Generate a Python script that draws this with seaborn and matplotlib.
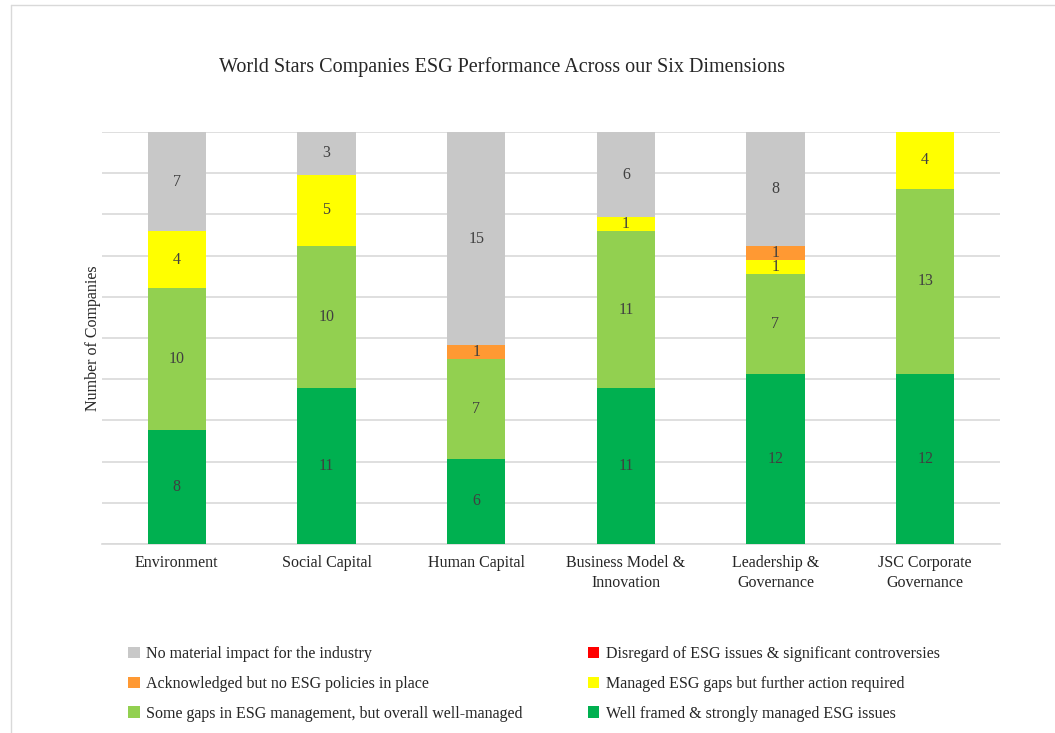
import numpy as np
import pandas as pd
import matplotlib
matplotlib.use("Agg")
import matplotlib.pyplot as plt
from matplotlib.patches import Patch
from matplotlib.lines import Line2D
import seaborn as sns

# Datos (de abajo hacia arriba en cada barra)
categories = ["Environment", "Social Capital", "Human Capital",
              "Business Model &\nInnovation", "Leadership &\nGovernance",
              "JSC Corporate\nGovernance"]
well_framed = [8, 11, 6, 11, 12, 12]
some_gaps = [10, 10, 7, 11, 7, 13]
managed_gaps = [4, 5, 0, 1, 1, 4]
acknowledged = [0, 0, 1, 0, 1, 0]
disregard = [0, 0, 0, 0, 0, 0]
no_material = [7, 3, 15, 6, 8, 0]

series_names = ["Well framed & strongly managed ESG issues",
                "Some gaps in ESG management, but overall well-managed",
                "Managed ESG gaps but further action required",
                "Acknowledged but no ESG policies in place",
                "Disregard of ESG issues & significant controversies",
                "No material impact for the industry"]
series_vals = [well_framed, some_gaps, managed_gaps, acknowledged, disregard, no_material]
colors = ["#00B050", "#92D050", "#FFFF00", "#FF9933", "#FF0000", "#C8C8C8"]

sns.set_style("white")
plt.rcParams["font.family"] = ["Liberation Serif", "DejaVu Serif"]

fig = plt.figure(figsize=(10.55, 7.33), dpi=100)
W, H = 1055, 733
ax = fig.add_axes([102 / W, 1 - 544 / H, 898 / W, 412 / H])

df = pd.DataFrame({"category": categories})
cum = np.zeros(len(categories))
cums = []
for vals in series_vals:
    cum = cum + np.array(vals)
    cums.append(cum.copy())

# barras apiladas: se dibuja el acumulado de arriba hacia abajo
for i in range(len(series_vals) - 1, -1, -1):
    df["v"] = cums[i]
    sns.barplot(data=df, x="category", y="v", color=colors[i], width=0.39,
                saturation=1, linewidth=0, ax=ax, zorder=3)

# etiquetas de valor
for i, vals in enumerate(series_vals):
    bottoms = cums[i] - np.array(vals)
    for j, v in enumerate(vals):
        if v > 0:
            ax.text(j, bottoms[j] + v / 2, str(v), ha="center", va="center",
                    fontsize=11.5, color="#404040", zorder=5)

ax.set_xlim(-0.5, 5.5)
ax.set_ylim(0, 29)
ax.set_yticks(np.linspace(0, 29, 11))
ax.set_yticklabels([])
ax.tick_params(axis="both", length=0)
ax.yaxis.grid(True, color="#D9D9D9", linewidth=1.2, zorder=0)
ax.set_axisbelow(True)
for s in ["top", "right", "left"]:
    ax.spines[s].set_visible(False)
ax.spines["bottom"].set_color("#D9D9D9")
ax.spines["bottom"].set_linewidth(1.2)
ax.set_xlabel("")
ax.set_xticks(range(len(categories)))
ax.set_xticklabels(categories, fontsize=11.5, color="#262626", linespacing=1.3)
ax.tick_params(axis="x", pad=8)
ax.set_ylabel("Number of Companies", fontsize=11.5, color="#262626", labelpad=-3)

fig.text(502 / W, 1 - 67 / H,
         "World Stars Companies ESG Performance Across our Six Dimensions",
         ha="center", va="center", fontsize=14.5, color="#262626")

# leyenda en dos columnas
order = [5, 3, 1, 4, 2, 0]
handles = [Patch(facecolor=colors[k], edgecolor="none") for k in order]
labels = [series_names[k] for k in order]
fig.legend(handles, labels, ncol=2, loc="upper left",
           bbox_to_anchor=(114 / W, 1 - 632 / H), frameon=False,
           fontsize=11.5, handlelength=0.7, handleheight=0.7,
           handletextpad=0.4, columnspacing=4.1, labelspacing=0.85,
           labelcolor="#262626")

# borde del gráfico
fig.add_artist(Line2D([11 / W, 1], [1 - 4.5 / H, 1 - 4.5 / H],
                      transform=fig.transFigure, color="#D9D9D9", linewidth=1))
fig.add_artist(Line2D([11 / W, 11 / W], [0, 1 - 4.5 / H],
                      transform=fig.transFigure, color="#D9D9D9", linewidth=1))

fig.savefig("out.png", dpi=100)
plt.close(fig)
